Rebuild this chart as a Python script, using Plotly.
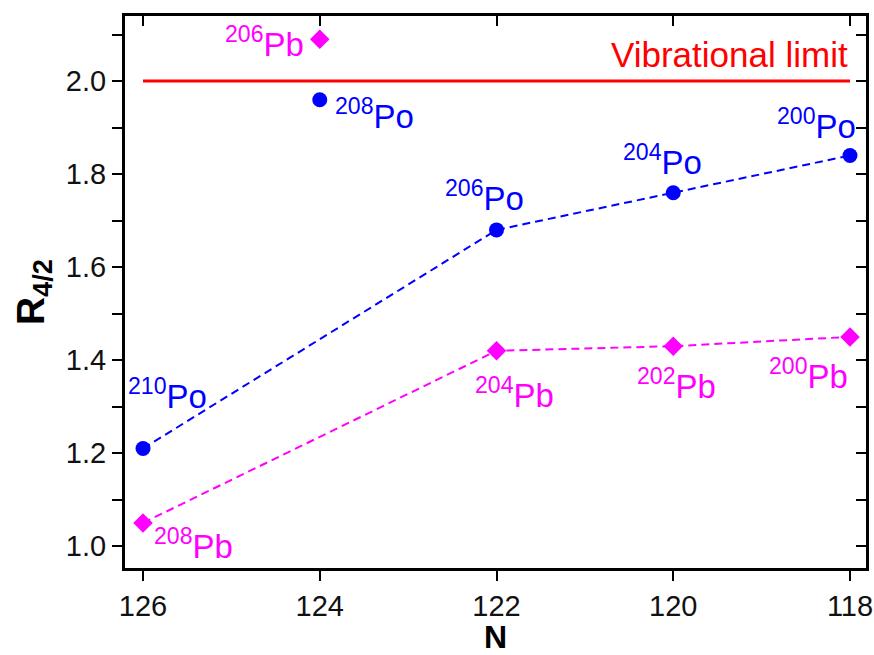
import plotly.graph_objects as go

# ---- data ----
N = [126, 124, 122, 120, 118]
po_r42 = [1.21, 1.96, 1.68, 1.76, 1.84]
pb_r42 = [1.05, 2.09, 1.42, 1.43, 1.45]
po_mass = ["210", "208", "206", "204", "200"]
pb_mass = ["208", "206", "204", "202", "200"]
line_idx = [0, 2, 3, 4]          # points joined by dashed lines (N=124 left isolated)
vib_x = [126, 118]
vib_y = [2.0, 2.0]
vib_label = "Vibrational limit"

# ---- styling ----
FONT = "Liberation Sans, Arial, sans-serif"
BLUE = "#0000FF"
MAG = "#FF00FF"
RED = "#FF0000"
po_shift = [(24, 54), (55, -14), (-12, 34), (-11, 33), (-34, 32)]
pb_shift = [(50, -21), (-55, -3), (18, -42), (3, -38), (-42, -37)]

fig = go.Figure()

fig.add_trace(go.Scatter(x=vib_x, y=vib_y, mode="lines",
                         line=dict(color=RED, width=3), showlegend=False))

fig.add_trace(go.Scatter(x=[N[i] for i in line_idx], y=[po_r42[i] for i in line_idx],
                         mode="lines", line=dict(color=BLUE, width=2, dash="8px,5px"),
                         showlegend=False))
fig.add_trace(go.Scatter(x=[N[i] for i in line_idx], y=[pb_r42[i] for i in line_idx],
                         mode="lines", line=dict(color=MAG, width=2, dash="8px,5px"),
                         showlegend=False))
fig.add_trace(go.Scatter(x=N, y=po_r42, mode="markers",
                         marker=dict(symbol="circle", size=15, color=BLUE), showlegend=False))
fig.add_trace(go.Scatter(x=N, y=pb_r42, mode="markers",
                         marker=dict(symbol="diamond", size=15, color=MAG), showlegend=False))

# invisible trace on mirrored axes (for inward ticks on top/right)
fig.add_trace(go.Scatter(x=[N[0]], y=[po_r42[0]], xaxis="x2", yaxis="y2", mode="markers",
                         marker=dict(opacity=0), showlegend=False, hoverinfo="skip"))

ann = []
for i, n in enumerate(N):
    dx, dy = po_shift[i]
    ann.append(dict(x=n, y=po_r42[i], text=f"<sup>{po_mass[i]}</sup>Po", showarrow=False,
                    xanchor="center", yanchor="middle", xshift=dx, yshift=dy,
                    font=dict(family=FONT, size=33, color=BLUE)))
    dx, dy = pb_shift[i]
    ann.append(dict(x=n, y=pb_r42[i], text=f"<sup>{pb_mass[i]}</sup>Pb", showarrow=False,
                    xanchor="center", yanchor="middle", xshift=dx, yshift=dy,
                    font=dict(family=FONT, size=33, color=MAG)))
ann.append(dict(x=vib_x[1], y=vib_y[1], text=vib_label, showarrow=False,
                xanchor="right", yanchor="middle", xshift=0, yshift=27,
                font=dict(family=FONT, size=35, color=RED)))

xr = [126.204, 117.819]
yr = [0.953, 2.14]

fig.update_layout(
    width=874, height=655,
    margin=dict(l=125, r=8, t=16, b=87),
    plot_bgcolor="white", paper_bgcolor="white",
    font=dict(family=FONT, color="black"),
    annotations=ann,
    xaxis=dict(range=xr, tickvals=N, ticktext=[str(v) for v in N],
               ticks="outside", ticklen=10, tickwidth=2, tickcolor="black",
               showline=True, linewidth=3, linecolor="black", mirror=True,
               showgrid=False, zeroline=False, automargin=False,
               tickfont=dict(size=29, color="#111"),
               title=dict(text="<b>N</b>", font=dict(size=32), standoff=5)),
    yaxis=dict(range=yr, tick0=1.0, dtick=0.2, tickformat=".1f",
               ticks="outside", ticklen=10, tickwidth=2, tickcolor="black",
               minor=dict(dtick=0.1, tick0=1.0, ticks="outside", ticklen=10, tickwidth=2,
                          tickcolor="black"),
               showline=True, linewidth=3, linecolor="black", mirror=True,
               showgrid=False, zeroline=False, automargin=False,
               tickfont=dict(size=29, color="#111"),
               title=dict(text="<b>R<sub>4/2</sub></b>", font=dict(size=39), standoff=10)),
    xaxis2=dict(range=xr, overlaying="x", side="top", tickvals=N, automargin=False,
                ticks="inside", ticklen=10, tickwidth=2, tickcolor="black",
                showticklabels=False, showline=False, showgrid=False, zeroline=False),
    yaxis2=dict(range=yr, overlaying="y", side="right", tick0=1.0, dtick=0.1, automargin=False,
                ticks="inside", ticklen=10, tickwidth=2, tickcolor="black",
                showticklabels=False, showline=False, showgrid=False, zeroline=False),
)

fig.write_html("out.html", config={"displayModeBar": False},
               post_script="document.body.style.margin='0';")
